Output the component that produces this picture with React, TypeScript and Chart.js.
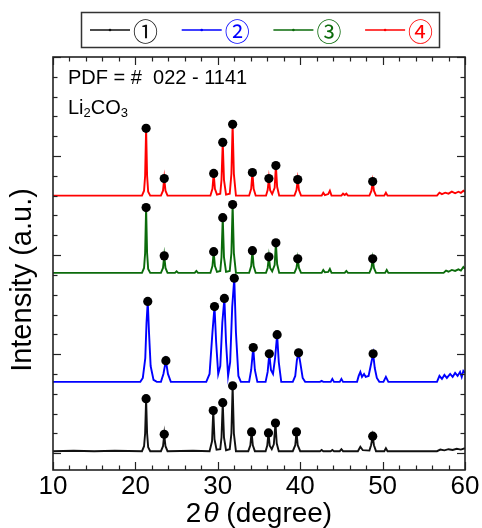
import React, { useEffect, useRef } from "react";
import { Chart, registerables } from "chart.js";

Chart.register(...registerables);

// ---------- data ----------
const seriesLabels = ["①", "②", "③", "④"];
const seriesColors = ["#111111", "#0000ff", "#0b6b0b", "#ff0000"];
const seriesOffsets = [10, 360, 910, 1300];

// Li2CO3 reference peaks (PDF #022-1141), 2θ in degrees
const pdfAngles = [21.3, 23.5, 29.5, 30.6, 31.8, 34.15, 36.2, 37.05, 39.65, 48.8];

const xTicks = [10, 20, 30, 40, 50, 60];
const xMinorTicks = [12, 14, 16, 18, 22, 24, 26, 28, 32, 34, 36, 38, 42, 44, 46, 48, 52, 54, 56, 58];
const yMajorTicks = [0, 500, 1000, 1500, 2000];
const yMinorTicks = [100, 200, 300, 400, 600, 700, 800, 900, 1100, 1200, 1300, 1400, 1600, 1700, 1800, 1900];

// sample ①
const sample1: [number, number][] = [
  [10, 0], [12.5, 2], [15, 0], [17.5, 2], [20.8, 0], [21.05, 25], [21.18, 90], [21.3, 265], [21.42, 90], [21.55, 20], [21.8, 0],
  [23.1, 0], [23.35, 25], [23.5, 85], [23.65, 25], [23.9, 0],
  [27, 2], [29.0, 0], [29.3, 50], [29.45, 205], [29.6, 60], [29.85, 8], [30.3, 10], [30.45, 70], [30.6, 245], [30.75, 70], [31.0, 5],
  [31.45, 10], [31.65, 90], [31.8, 330], [31.95, 90], [32.2, 0],
  [33.7, 0], [33.95, 30], [34.1, 97], [34.25, 30], [34.5, 0],
  [35.8, 0], [36.0, 28], [36.15, 92], [36.3, 28], [36.55, 10], [36.8, 35], [37.0, 142], [37.15, 40], [37.4, 0],
  [39.1, 0], [39.4, 30], [39.55, 97], [39.7, 30], [40.0, 0],
  [42.4, 0], [42.6, 6], [42.8, 0], [43.7, 0], [43.9, 6], [44.1, 0], [44.8, 0], [45.0, 10], [45.2, 0],
  [47.0, 0], [47.3, 22], [47.6, 5], [48.4, 3], [48.6, 30], [48.8, 76], [48.95, 30], [49.2, 0],
  [50.2, 0], [50.4, 15], [50.6, 0], [56.6, 0], [57, 8], [57.5, 4], [58, 10], [58.5, 6], [59, 12], [59.5, 8], [60, 15],
];

// sample ②
const sample2: [number, number][] = [
  [10, 0], [20.6, 0], [20.9, 20], [21.2, 120], [21.35, 300], [21.5, 406], [21.65, 250], [21.85, 80], [22.2, 10], [22.6, 0],
  [23.1, 0], [23.4, 40], [23.7, 107], [23.95, 40], [24.3, 0],
  [28.6, 0], [29.0, 40], [29.35, 250], [29.6, 380], [29.8, 200], [30.05, 40], [30.3, 80], [30.55, 300], [30.8, 421], [31.0, 200],
  [31.25, 30], [31.5, 100], [31.75, 380], [32.0, 523], [32.2, 250], [32.5, 30], [32.8, 0],
  [33.8, 0], [34.05, 60], [34.3, 173], [34.5, 60], [34.8, 0],
  [35.8, 0], [36.05, 50], [36.25, 142], [36.45, 60], [36.7, 40], [36.95, 120], [37.2, 238], [37.4, 100], [37.7, 0],
  [39.1, 0], [39.4, 30], [39.6, 110], [39.8, 147], [40.0, 100], [40.3, 20], [40.6, 0],
  [42.4, 0], [42.6, 5], [42.8, 0], [43.7, 0], [43.9, 15], [44.1, 0], [44.8, 0], [45.0, 15], [45.2, 0],
  [46.9, 0], [47.1, 30], [47.3, 50], [47.5, 25], [47.75, 40], [47.95, 25], [48.3, 30], [48.6, 90], [48.85, 142], [49.05, 70], [49.3, 20], [49.6, 0],
  [50.1, 0], [50.4, 25], [50.7, 0],
  [56.6, 0], [56.9, 30], [57.2, 15], [57.5, 35], [57.8, 20], [58.2, 40], [58.5, 25], [58.8, 45], [59.1, 30], [59.4, 50], [59.6, 25], [59.8, 55], [60, 45],
];

// sample ③
const sample3: [number, number][] = [
  [10, 0], [20.8, 0], [21.05, 25], [21.18, 100], [21.3, 330], [21.42, 100], [21.55, 20], [21.8, 0],
  [23.1, 0], [23.35, 25], [23.5, 86], [23.65, 25], [23.9, 0],
  [24.8, 0], [25.0, 8], [25.2, 0], [27.2, 0], [27.4, 10], [27.6, 0],
  [29.1, 0], [29.35, 35], [29.5, 107], [29.65, 35], [29.9, 5], [30.3, 10], [30.45, 80], [30.6, 279], [30.75, 80], [31.0, 5],
  [31.45, 10], [31.65, 100], [31.8, 345], [31.95, 100], [32.2, 0],
  [33.8, 0], [34.05, 35], [34.2, 112], [34.35, 35], [34.6, 0],
  [35.85, 0], [36.05, 25], [36.2, 81], [36.35, 25], [36.6, 8], [36.9, 40], [37.05, 152], [37.2, 45], [37.45, 0],
  [39.3, 0], [39.55, 25], [39.7, 71], [39.85, 25], [40.1, 0],
  [42.6, 0], [42.8, 15], [43.0, 3], [43.4, 5], [43.6, 20], [43.8, 0], [45.4, 0], [45.6, 10], [45.8, 0],
  [48.4, 0], [48.65, 25], [48.8, 71], [48.95, 25], [49.2, 0],
  [50.3, 0], [50.5, 15], [50.7, 0],
  [57.4, 0], [57.7, 12], [58, 6], [58.4, 15], [58.8, 10], [59.2, 18], [59.5, 12], [59.8, 30], [60, 20],
];

// sample ④
const sample4: [number, number][] = [
  [10, 0], [20.8, 0], [21.05, 25], [21.18, 100], [21.3, 340], [21.42, 100], [21.55, 20], [21.8, 0],
  [23.1, 0], [23.35, 25], [23.5, 86], [23.65, 25], [23.9, 0],
  [29.1, 0], [29.35, 35], [29.5, 112], [29.65, 35], [29.9, 5], [30.3, 10], [30.45, 80], [30.6, 269], [30.75, 80], [31.0, 5],
  [31.45, 10], [31.65, 110], [31.8, 360], [31.95, 110], [32.2, 0],
  [33.8, 0], [34.05, 35], [34.2, 117], [34.35, 35], [34.6, 0],
  [35.85, 0], [36.05, 28], [36.2, 86], [36.35, 28], [36.6, 8], [36.9, 40], [37.05, 152], [37.2, 45], [37.45, 0],
  [39.3, 0], [39.55, 28], [39.7, 81], [39.85, 28], [40.1, 0],
  [42.6, 0], [42.8, 15], [43.0, 3], [43.4, 8], [43.6, 25], [43.8, 0], [45.0, 0], [45.2, 10], [45.4, 3], [45.6, 10], [45.8, 0],
  [48.4, 0], [48.65, 25], [48.8, 71], [48.95, 25], [49.2, 0],
  [50.2, 0], [50.4, 15], [50.6, 0],
  [56.6, 0], [56.9, 15], [57.2, 8], [57.6, 15], [58, 10], [58.4, 20], [58.8, 12], [59.2, 20], [59.5, 14], [59.8, 25], [60, 18],
];

const allSamples = [sample1, sample2, sample3, sample4];

const xMin = 10, xMax = 60, yMin = -85, yMax = 2000;

const SANS = "'Liberation Sans', Arial, sans-serif";

function peakMarkers(s: [number, number][], off: number) {
  return pdfAngles.map((a) => {
    let best: [number, number] | null = null;
    for (const p of s) {
      if (Math.abs(p[0] - a) <= 0.35 && (!best || p[1] > best[1])) best = p;
    }
    const b = best || [a, 0];
    return { x: b[0], y: b[1] + off };
  });
}

const decorPlugin = {
  id: "decor",
  afterDatasetsDraw(chart: any) {
    const { ctx, chartArea: a, scales } = chart;
    const xs = scales.x, ys = scales.y;
    ctx.save();
    const line = (x1: number, y1: number, x2: number, y2: number) => {
      ctx.beginPath();
      ctx.moveTo(x1, y1);
      ctx.lineTo(x2, y2);
      ctx.stroke();
    };
    ctx.strokeStyle = "#222";
    ctx.lineWidth = 1.2;
    // x ticks (bottom & top, inward)
    for (const v of xTicks) {
      const px = Math.round(xs.getPixelForValue(v)) + 0.5;
      line(px, a.bottom, px, a.bottom - 8);
      line(px, a.top, px, a.top + 8);
    }
    for (const v of xMinorTicks) {
      const px = Math.round(xs.getPixelForValue(v)) + 0.5;
      line(px, a.bottom, px, a.bottom - 4.5);
      line(px, a.top, px, a.top + 4.5);
    }
    for (const v of yMajorTicks) {
      const py = Math.round(ys.getPixelForValue(v)) + 0.5;
      line(a.left, py, a.left + 8, py);
      line(a.right, py, a.right - 8, py);
    }
    for (const v of yMinorTicks) {
      const py = Math.round(ys.getPixelForValue(v)) + 0.5;
      line(a.left, py, a.left + 4.5, py);
      line(a.right, py, a.right - 4.5, py);
    }
    // frame
    ctx.lineWidth = 1.6;
    ctx.strokeRect(a.left, a.top, a.right - a.left, a.bottom - a.top);

    // x tick labels
    ctx.fillStyle = "#000";
    ctx.font = `26px ${SANS}`;
    ctx.textAlign = "center";
    ctx.textBaseline = "alphabetic";
    for (const v of xTicks) {
      ctx.fillText(String(v), xs.getPixelForValue(v), a.bottom + 24);
    }

    // x title: 2θ (degree)
    const p1 = "2", p3 = " (degree)";
    ctx.font = `28px ${SANS}`;
    const w1 = ctx.measureText(p1).width;
    const w3 = ctx.measureText(p3).width;
    ctx.font = `italic 28px ${SANS}`;
    const w2 = ctx.measureText("θ").width;
    const total = w1 + 2 + w2 + w3;
    let cx = (a.left + a.right) / 2 - total / 2;
    const by = 522;
    ctx.textAlign = "left";
    ctx.font = `28px ${SANS}`;
    ctx.fillText(p1, cx, by);
    cx += w1 + 2;
    ctx.font = `italic 28px ${SANS}`;
    ctx.fillText("θ", cx, by);
    cx += w2;
    ctx.font = `28px ${SANS}`;
    ctx.fillText(p3, cx, by);

    // y title
    ctx.save();
    ctx.translate(31, 280);
    ctx.rotate(-Math.PI / 2);
    ctx.textAlign = "center";
    ctx.font = `29px ${SANS}`;
    ctx.fillText("Intensity (a.u.)", 0, 0);
    ctx.restore();

    // annotation
    ctx.textAlign = "left";
    ctx.font = `20px ${SANS}`;
    ctx.fillText("PDF = #  022 - 1141", 68, 84);
    let lx = 68;
    const parts: [string, boolean][] = [["Li", false], ["2", true], ["CO", false], ["3", true]];
    for (const [t, sub] of parts) {
      ctx.font = sub ? `13px ${SANS}` : `20px ${SANS}`;
      ctx.fillText(t, lx, sub ? 117 : 114);
      lx += ctx.measureText(t).width;
    }

    // legend box
    ctx.strokeStyle = "#333";
    ctx.lineWidth = 1.5;
    ctx.strokeRect(81.5, 12.5, 358, 35);
    const ds = chart.data.datasets.filter((d: any) => !d.isMarker);
    ds.forEach((d: any, i: number) => {
      const x0 = 90 + i * 91.7;
      const y0 = 30;
      ctx.strokeStyle = d.borderColor;
      ctx.lineWidth = 1.3;
      line(x0, y0, x0 + 40, y0);
      ctx.fillStyle = d.borderColor;
      ctx.beginPath();
      ctx.arc(x0 + 20, y0, 1.3, 0, Math.PI * 2);
      ctx.fill();
      ctx.font = `25px 'Noto Sans CJK JP', 'DejaVu Sans', sans-serif`;
      ctx.textBaseline = "middle";
      ctx.fillText(d.label, x0 + 43, y0 + 1);
    });
    ctx.restore();
  },
};

export default function App() {
  const ref = useRef<HTMLCanvasElement | null>(null);
  useEffect(() => {
    document.body.style.margin = "0";
    if (!ref.current) return;
    const lineSets = allSamples.map((s, i) => ({
      label: seriesLabels[i],
      data: s.map(([x, y]) => ({ x, y: y + seriesOffsets[i] })),
      borderColor: seriesColors[i],
      backgroundColor: seriesColors[i],
      borderWidth: 1.9,
      pointRadius: 0,
      tension: 0,
      order: 10 - i,
    }));
    const markerSets = allSamples.map((s, i) => ({
      label: "PDF " + seriesLabels[i],
      isMarker: true,
      data: peakMarkers(s, seriesOffsets[i]),
      showLine: false,
      pointRadius: 4.6,
      pointBackgroundColor: "#000",
      pointBorderColor: "#000",
      borderWidth: 0,
      order: 0,
    }));
    const chart = new Chart(ref.current, {
      type: "line",
      data: { datasets: [...lineSets, ...markerSets] as any },
      options: {
        animation: false,
        responsive: false,
        maintainAspectRatio: false,
        devicePixelRatio: 1,
        layout: { padding: { left: 53, right: 17, top: 57, bottom: 58 } },
        scales: {
          x: { type: "linear", min: xMin, max: xMax, display: false },
          y: { type: "linear", min: yMin, max: yMax, display: false },
        },
        plugins: { legend: { display: false }, tooltip: { enabled: false } },
      },
      plugins: [decorPlugin],
    });
    return () => chart.destroy();
  }, []);
  return (
    <div style={{ width: 482, height: 528, background: "#fff" }}>
      <canvas ref={ref} width={482} height={528} />
    </div>
  );
}
